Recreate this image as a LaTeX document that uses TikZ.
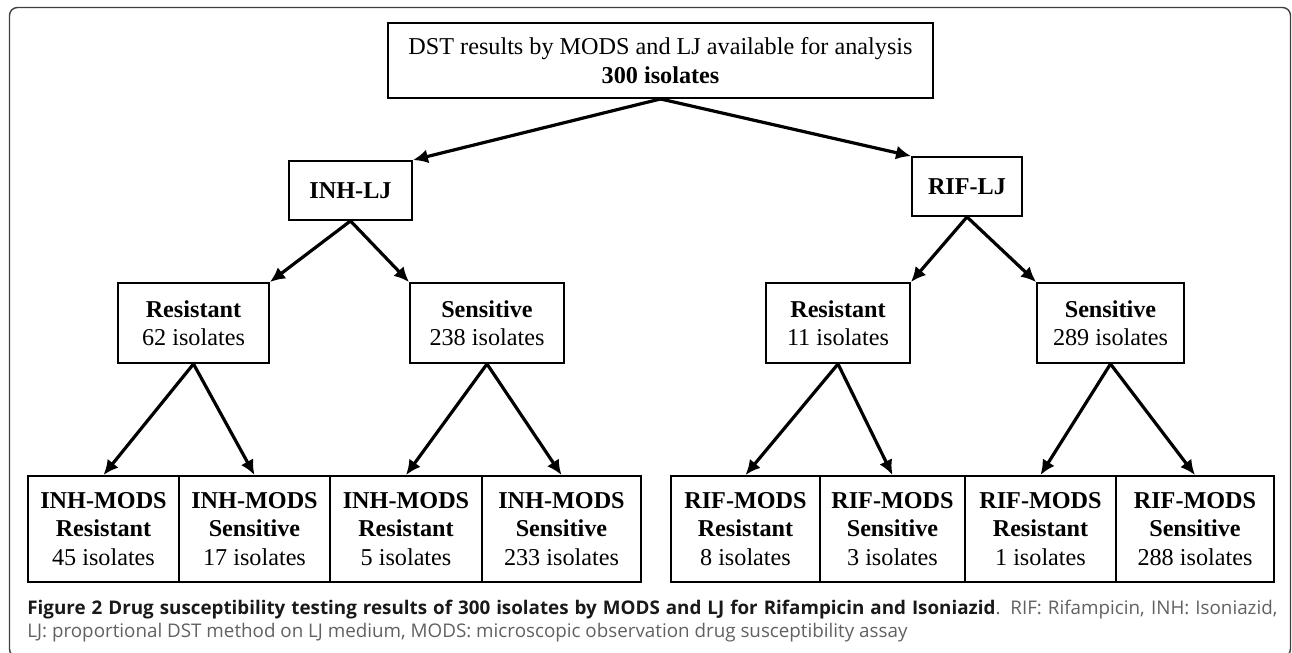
\documentclass[tikz,border=0pt]{standalone}
\usepackage{fontspec}
\setmainfont{Liberation Serif}
\newfontfamily\captionfont{Open Sans}
\usepackage{tikz}
\usetikzlibrary{calc, shapes, arrows.meta}
\usetikzlibrary{positioning}
\tikzstyle{outcome} = [rectangle, draw, line width=0.95pt, align=center, inner sep=0pt, font=\fontsize{12.1}{14.25}\selectfont]
\tikzstyle{connector} = [draw, line width=1.6pt, -{Latex[length=7.5pt, width=7pt]}]

\begin{document}
\begin{tikzpicture}[x=0.5pt, y=-0.5pt]
        \useasboundingbox (0, 0) rectangle (1292, 653);
        \draw[line width=0.7pt, color=black!75, rounded corners=4pt] (9.5, 7.5) rectangle (1290.5, 657);

        \node[outcome, minimum width=272.5pt, minimum height=37.5pt] (DST) at (660.5, 60.5) {DST results by MODS and LJ available for analysis\\\textbf{300 isolates}};

        \node[outcome, minimum width=61.5pt, minimum height=29.5pt] (INH_LJ) at (350.5, 190.5) {\textbf{INH-LJ}};
        \node[outcome, minimum width=55pt, minimum height=29.5pt] (RIF_LJ) at (967, 186.5) {\textbf{RIF-LJ}};

        \node[outcome, minimum width=75.5pt, minimum height=40pt] (INH_Resistant) at (193.5, 323) {\textbf{Resistant}\\62 isolates};
        \node[outcome, minimum width=77pt, minimum height=40pt] (INH_Sensitive) at (487, 323) {\textbf{Sensitive}\\238 isolates};
        \node[outcome, minimum width=72pt, minimum height=40pt] (RIF_Resistant) at (838, 323) {\textbf{Resistant}\\11 isolates};
        \node[outcome, minimum width=73.5pt, minimum height=40pt] (RIF_Sensitive) at (1110.5, 323) {\textbf{Sensitive}\\289 isolates};

        \node[outcome, minimum width=75.5pt, minimum height=53pt] (INH_MODS_RR) at (103.5, 529) {\textbf{INH-MODS}\\\textbf{Resistant}\\45 isolates};
        \node[outcome, minimum width=75.5pt, minimum height=53pt] (INH_MODS_RS) at (254.5, 529) {\textbf{INH-MODS}\\\textbf{Sensitive}\\17 isolates};
        \node[outcome, minimum width=76pt, minimum height=53pt] (INH_MODS_SR) at (406, 529) {\textbf{INH-MODS}\\\textbf{Resistant}\\5 isolates};
        \node[outcome, minimum width=79.5pt, minimum height=53pt] (INH_MODS_SS) at (561.5, 529) {\textbf{INH-MODS}\\\textbf{Sensitive}\\233 isolates};

        \node[outcome, minimum width=74.5pt, minimum height=53pt] (RIF_MODS_RR) at (745.5, 529) {\textbf{RIF-MODS}\\\textbf{Resistant}\\8 isolates};
        \node[outcome, minimum width=72.5pt, minimum height=53pt] (RIF_MODS_RS) at (892.5, 529) {\textbf{RIF-MODS}\\\textbf{Sensitive}\\3 isolates};
        \node[outcome, minimum width=75.5pt, minimum height=53pt] (RIF_MODS_SR) at (1040.5, 529) {\textbf{RIF-MODS}\\\textbf{Resistant}\\1 isolates};
        \node[outcome, minimum width=79pt, minimum height=53pt] (RIF_MODS_SS) at (1195, 529) {\textbf{RIF-MODS}\\\textbf{Sensitive}\\288 isolates};

        \node[anchor=north west, inner sep=0pt, text width=625pt, align=justify, font=\captionfont\fontsize{9.4}{11.5}\selectfont, text=black!62] (caption) at (27, 600) {\textcolor{black!90}{\textbf{Figure 2 Drug susceptibility testing results of 300 isolates by MODS and LJ for Rifampicin and Isoniazid}}. RIF: Rifampicin, INH: Isoniazid,\linebreak LJ: proportional DST method on LJ medium, MODS: microscopic observation drug susceptibility assay};

        \draw[connector] (DST.south) -- (INH_LJ.north east);
        \draw[connector] (DST.south) -- (RIF_LJ.north west);

        \draw[connector] (INH_LJ.south) -- (INH_Resistant.north east);
        \draw[connector] (INH_LJ.south) -- (INH_Sensitive.north west);
        \draw[connector] (RIF_LJ.south) -- (RIF_Resistant.north east);
        \draw[connector] (RIF_LJ.south) -- (RIF_Sensitive.north west);

        \draw[connector] (INH_Resistant.south) -- (INH_MODS_RR.north);
        \draw[connector] (INH_Resistant.south) -- (INH_MODS_RS.north);
        \draw[connector] (INH_Sensitive.south) -- (INH_MODS_SR.north);
        \draw[connector] (INH_Sensitive.south) -- (INH_MODS_SS.north);
        \draw[connector] (RIF_Resistant.south) -- (RIF_MODS_RR.north);
        \draw[connector] (RIF_Resistant.south) -- (RIF_MODS_RS.north);
        \draw[connector] (RIF_Sensitive.south) -- (RIF_MODS_SR.north);
        \draw[connector] (RIF_Sensitive.south) -- (RIF_MODS_SS.north);

    \end{tikzpicture}
\end{document}
